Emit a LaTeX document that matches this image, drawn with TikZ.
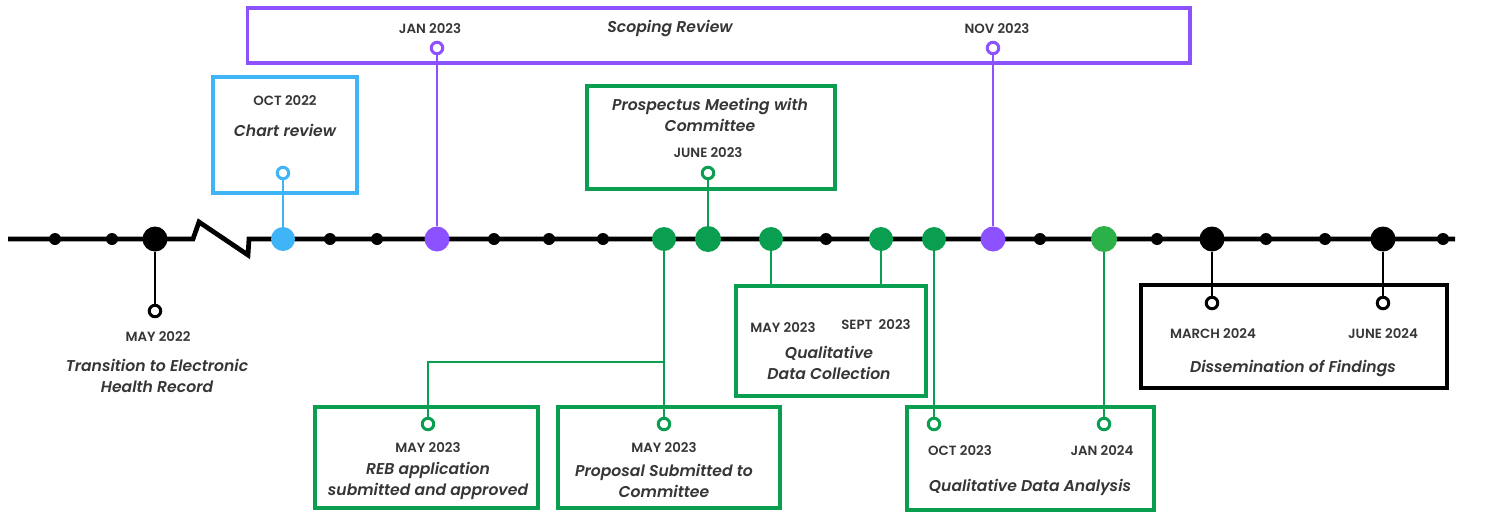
\documentclass[tikz,border=0pt]{standalone}
\usepackage{fontspec}
\setmainfont{Poppins}
\newfontfamily\phasefont{Poppins SemiBold Italic}
\newfontfamily\datefont{Poppins SemiBold}
\usetikzlibrary{positioning,calc}
\definecolor{tlblue}{HTML}{3FB4F7}
\definecolor{tlpurple}{HTML}{8C52FF}
\definecolor{tlgreen}{HTML}{0A9F50}
\definecolor{tllime}{HTML}{2BB04A}
\definecolor{txtgray}{HTML}{363636}
\tikzset{
  phase/.style={draw=#1,line width=1.8pt,inner sep=0pt},
  evdot/.style={circle,fill=#1,inner sep=0pt,minimum size=0.48cm},
  minordot/.style={circle,fill=black,inner sep=0pt,minimum size=0.24cm},
  hollow/.style={circle,draw=#1,line width=1.7pt,fill=white,inner sep=0pt,minimum size=0.23cm},
  link/.style={draw=#1,line width=1.6pt},
  datelbl/.style={font=\datefont\fontsize{7.6}{8}\selectfont,text=txtgray,inner sep=1pt},
  phaselbl/.style={font=\phasefont\fontsize{8.9}{12.4}\selectfont,text=txtgray,align=center,inner sep=1pt},
  timeline/.style={line width=2.7pt,line join=miter},
}
\begin{document}
\begin{tikzpicture}[x=0.02cm,y=-0.02cm]
			\useasboundingbox[fill=white] (0,0) rectangle (1490,514);
			\node[phase=tlpurple,minimum width=18.86cm,minimum height=1.1cm] (scoping) at (718.5,35.5) {};
			\node[phase=tlblue,minimum width=2.88cm,minimum height=2.32cm] (chart) at (285,135) {};
			\node[phase=tlgreen,minimum width=4.96cm,minimum height=2.06cm] (prosp) at (711,137.5) {};
			\node[phase=tlgreen,minimum width=4.46cm,minimum height=2.02cm] (reb) at (426.5,457.5) {};
			\node[phase=tlgreen,minimum width=4.44cm,minimum height=2.02cm] (prop) at (669,457.5) {};
			\node[phase=tlgreen,minimum width=3.8cm,minimum height=2.2cm] (collect) at (831,341) {};
			\node[phase=tlgreen,minimum width=4.94cm,minimum height=2.06cm] (analysis) at (1030.5,458.5) {};
			\node[phase=black,minimum width=6.12cm,minimum height=2.06cm] (dissem) at (1294,336.5) {};
			\coordinate (tlstart) at (8,239);
			\coordinate (tlend) at (1455,239);
			\draw[timeline] (tlstart) -- (193,239) -- (199,222) -- (248,255) -- (249,239) -- (tlend);
			\foreach \x [count=\i] in {55,112,330,377,494,549,603,826,1040,1157,1266,1325,1443}
				\node[minordot] (m\i) at (\x,239) {};
			\node[evdot=black,minimum size=0.5cm] (may22) at (155,239) {};
			\node[evdot=tlblue] (oct22) at (283,239) {};
			\node[evdot=tlpurple,minimum size=0.5cm] (jan23) at (437,239) {};
			\node[evdot=tlgreen] (may23a) at (664,239) {};
			\node[evdot=tlgreen,minimum size=0.52cm] (jun23) at (708,239) {};
			\node[evdot=tlgreen] (may23b) at (771,239) {};
			\node[evdot=tlgreen] (sep23) at (881,239) {};
			\node[evdot=tlgreen] (oct23) at (934,239) {};
			\node[evdot=tlpurple,minimum size=0.5cm] (nov23) at (993,239) {};
			\node[evdot=tllime,minimum size=0.52cm] (jan24) at (1104,239) {};
			\node[evdot=black,minimum size=0.5cm] (mar24) at (1212,239) {};
			\node[evdot=black,minimum size=0.5cm] (jun24) at (1383,239) {};
			\node[hollow=black] (hmay22) at (155,311) {};
			\node[hollow=tlblue] (hoct22) at (283,173) {};
			\node[hollow=tlpurple] (hjan23) at (437,48) {};
			\node[hollow=tlpurple] (hnov23) at (993,48) {};
			\node[hollow=tlgreen] (hjun23) at (708,173) {};
			\node[hollow=tlgreen] (hreb) at (428,424) {};
			\node[hollow=tlgreen] (hprop) at (664,424) {};
			\node[hollow=tlgreen] (hoct23) at (934,424) {};
			\node[hollow=tlgreen] (hjan24) at (1104,424) {};
			\node[hollow=black] (hmar24) at (1212,303) {};
			\node[hollow=black] (hjun24) at (1383,303) {};
			\coordinate (split) at (664,362);
			\draw[link=black] (may22) -- (hmay22);
			\draw[link=tlblue] (oct22) -- (hoct22);
			\draw[link=tlpurple] (jan23) -- (hjan23);
			\draw[link=tlpurple] (nov23) -- (hnov23);
			\draw[link=tlgreen] (jun23) -- (hjun23);
			\draw[link=tlgreen] (may23a) -- (hprop);
			\draw[link=tlgreen] (split) -| (hreb);
			\draw[link=tlgreen] (may23b) -- (may23b |- collect.north);
			\draw[link=tlgreen] (sep23) -- (sep23 |- collect.north);
			\draw[link=tlgreen] (oct23) -- (hoct23);
			\draw[link=tlgreen] (jan24) -- (hjan24);
			\draw[link=black] (mar24) -- (hmar24);
			\draw[link=black] (jun24) -- (hjun24);
			\node[datelbl] (tjan23) at (430,29) {JAN 2023};
			\node[phaselbl] (tscoping) at (670,29) {Scoping Review};
			\node[datelbl] (tnov23) at (997,29) {NOV 2023};
			\node[datelbl] (toct22) at (285,101) {OCT 2022};
			\node[phaselbl] (tchart) at (285,130) {Chart review};
			\node[phaselbl] (tprosp) at (710,115) {Prospectus Meeting with\\Committee};
			\node[datelbl] (tjun23) at (708,153) {JUNE 2023};
			\node[datelbl] (tmay22) at (158,337) {MAY 2022};
			\node[phaselbl] (tehr) at (157,376) {Transition to Electronic\\Health Record};
			\node[datelbl] (tmay23a) at (428,448) {MAY 2023};
			\node[phaselbl] (treb) at (428,481) {REB application\\submitted and approved};
			\node[datelbl] (tmay23b) at (664,448) {MAY 2023};
			\node[phaselbl] (tprop) at (664,481) {Proposal Submitted to\\Committee};
			\node[datelbl] (tmay23c) at (783,328) {MAY 2023};
			\node[datelbl] (tsep23) at (876,325) {SEPT\ \ 2023};
			\node[phaselbl] (tcollect) at (829,363) {Qualitative\\Data Collection};
			\node[datelbl] (toct23) at (960,451) {OCT 2023};
			\node[datelbl] (tjan24) at (1102,451) {JAN 2024};
			\node[phaselbl] (tanalysis) at (1030,487) {Qualitative Data Analysis};
			\node[datelbl] (tmar24) at (1213,334) {MARCH 2024};
			\node[datelbl] (tjun24) at (1383,334) {JUNE 2024};
			\node[phaselbl] (tdissem) at (1293,368) {Dissemination of Findings};
		\end{tikzpicture}
\end{document}
